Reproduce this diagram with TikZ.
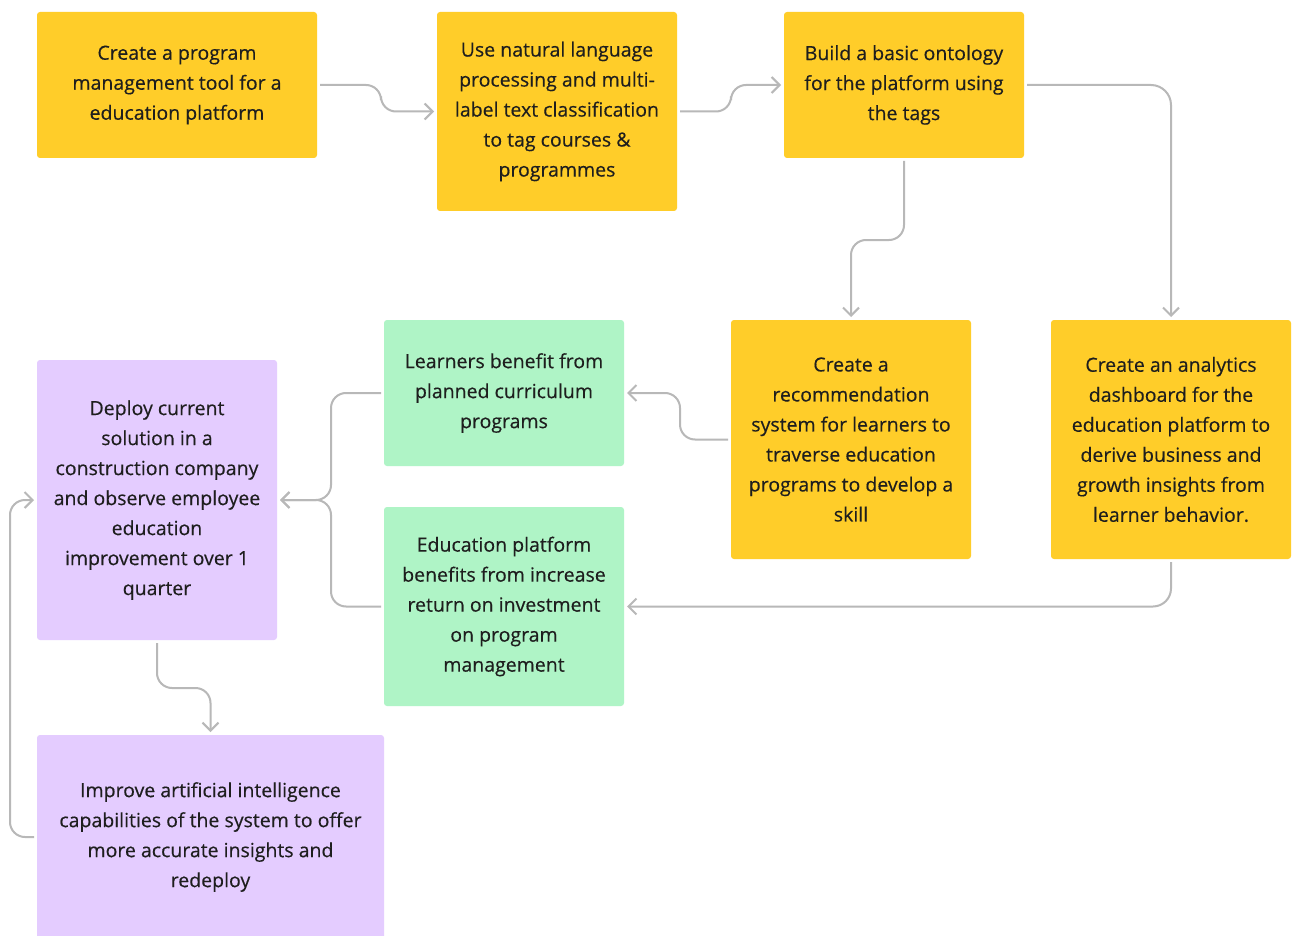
\documentclass[tikz,border=0pt]{standalone}
\usepackage{fontspec}
\setmainfont{Open Sans}[FakeBold=0.35]
\usetikzlibrary{arrows.meta}
\definecolor{stickyyellow}{HTML}{FFCD29}
\definecolor{stickygreen}{HTML}{AFF4C6}
\definecolor{stickypurple}{HTML}{E4CCFF}
\definecolor{inktext}{HTML}{1E1E1E}
\definecolor{wire}{HTML}{B8B8B8}
\tikzset{
  card/.style={rounded corners=3pt, inner sep=0pt, outer sep=3pt,
    align=center, text=inktext, font=\fontsize{19.5}{30}\selectfont,
    execute at begin node={\mbox{}\\[-24pt]}},
  ycard/.style={card, fill=stickyyellow},
  gcard/.style={card, fill=stickygreen},
  pcard/.style={card, fill=stickypurple},
  conn/.style={draw=wire, line width=2pt, rounded corners=15pt,
    -{Straight Barb[length=8pt,width=16pt,line width=2pt]}},
}
\begin{document}
\begin{tikzpicture}[x=1pt,y=-1pt]
\useasboundingbox[fill=white] (0,0) rectangle (1298,936);

% top row
\node[ycard, minimum width=280, minimum height=146] (plan) at (177,85)
  {Create a program\\management tool for a\\education platform};
\node[ycard, minimum width=240, minimum height=199] (nlp) at (557,111.5)
  {Use natural language\\processing and multi-\\label text classification\\to tag courses \&\\programmes};
\node[ycard, minimum width=240, minimum height=146] (onto) at (904,85)
  {Build a basic ontology\\for the platform using\\the tags};

% middle row
\node[ycard, minimum width=240, minimum height=239] (recsys) at (851,439.5)
  {Create a\\recommendation\\system for learners to\\traverse education\\programs to develop a\\skill};
\node[ycard, minimum width=240, minimum height=239] (dash) at (1171,439.5)
  {Create an analytics\\dashboard for the\\education platform to\\derive business and\\growth insights from\\learner behavior.};
\node[gcard, minimum width=240, minimum height=146] (learn) at (504,393)
  {Learners benefit from\\planned curriculum\\programs};
\node[gcard, minimum width=240, minimum height=199] (roi) at (504,606.5)
  {Education platform\\benefits from increase\\return on investment\\on program\\management};

% left column
\node[pcard, minimum width=240, minimum height=280] (deploy) at (157,500)
  {Deploy current\\solution in a\\construction company\\and observe employee\\education\\improvement over 1\\quarter};
\node[pcard, minimum width=347, minimum height=204] (improve) at (210.5,837)
  {Improve artificial intelligence\\capabilities of the system to offer\\more accurate insights and\\redeploy};

% connectors
\draw[conn] (plan.east) -- ++(61,0) |- (nlp.west);
\draw[conn] (nlp.east) -- ++(51,0) |- (onto.west);
\draw[conn, rounded corners=20pt] (onto.east) -| (dash.north);
\draw[conn] (onto.south) -- ++(0,79) -| (recsys.north);
\draw[conn] (recsys.west) -- ++(-48,0) |- (learn.east);
\draw[conn, rounded corners=18pt] (dash.south) |- (roi.east);
\draw[conn] (learn.west) -- ++(-50,0) |- (deploy.east);
\draw[conn] (roi.west) -- ++(-50,0) |- (deploy.east);
\draw[conn] (deploy.south) -- ++(0,45) -| (improve.north);
\draw[conn] (improve.west) -- ++(-24,0) |- (deploy.west);
\end{tikzpicture}
\end{document}
